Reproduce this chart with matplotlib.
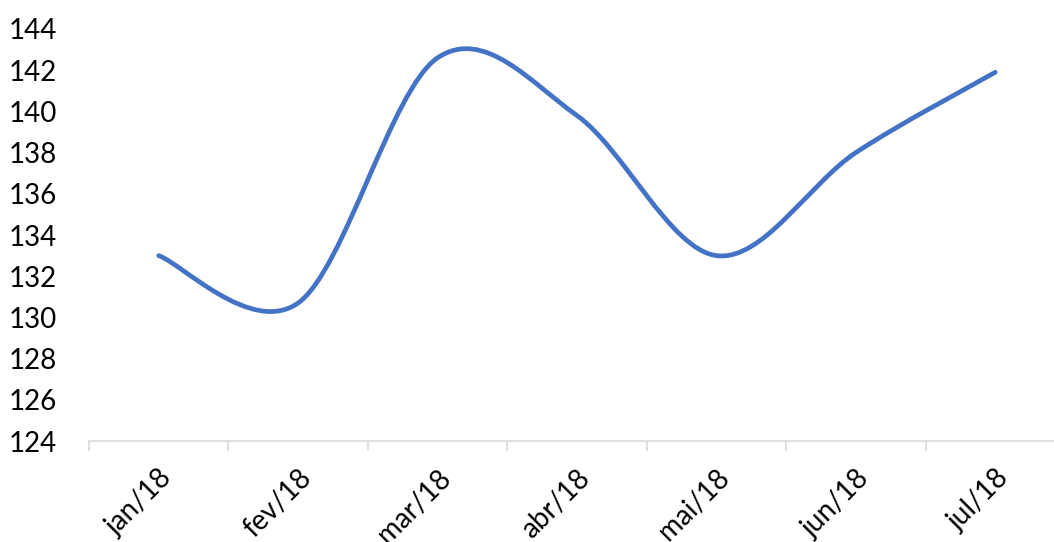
import matplotlib.pyplot as plt
import numpy as np
from matplotlib.path import Path
from matplotlib.patches import PathPatch

months = ['jan/18', 'fev/18', 'mar/18', 'abr/18', 'mai/18', 'jun/18', 'jul/18']
values = [133.0, 130.7, 142.6, 139.8, 133.0, 138.0, 141.9]
y_ticks = list(range(124, 145, 2))

plt.rcParams['font.family'] = ['Lato', 'DejaVu Sans']


def smooth_path(xs, ys):
    # Catmull-Rom style cubic Bezier through every point
    pts = np.column_stack([xs, ys]).astype(float)
    n = len(pts)
    verts = [pts[0]]
    codes = [Path.MOVETO]
    for i in range(n - 1):
        p0 = pts[i - 1] if i > 0 else pts[i]
        p1 = pts[i]
        p2 = pts[i + 1]
        p3 = pts[i + 2] if i + 2 < n else pts[i + 1]
        c1 = p1 + (p2 - p0) / 6
        c2 = p2 - (p3 - p1) / 6
        verts += [c1, c2, p2]
        codes += [Path.CURVE4] * 3
    return Path(verts, codes)


fig = plt.figure(figsize=(10.54, 5.42), dpi=100)
ax = fig.add_axes([0.0844, 0.1863, 0.926, 0.7602])

x = np.arange(len(months))
ax.add_patch(PathPatch(smooth_path(x, values), fill=False, edgecolor='#4472C4',
                       linewidth=3.4, capstyle='round', joinstyle='round'))

ax.set_xlim(-0.5, len(months) - 0.5)
ax.set_ylim(124, 144)
ax.set_yticks(y_ticks)
ax.set_yticklabels([str(v) for v in y_ticks], fontsize=20)
ax.tick_params(axis='y', length=0, pad=23)

ax.set_xticks(x)
ax.set_xticklabels(months, fontsize=20, rotation=45, ha='right',
                   rotation_mode='anchor')
ax.tick_params(axis='x', length=0, pad=17)
ax.set_xticks(np.arange(len(months) + 1) - 0.5, minor=True)
ax.tick_params(axis='x', which='minor', length=7, color='#D9D9D9', width=1.2)

for side in ['top', 'right', 'left']:
    ax.spines[side].set_visible(False)
ax.spines['bottom'].set_color('#D9D9D9')
ax.spines['bottom'].set_linewidth(1.2)

fig.savefig('out.png', dpi=100)
